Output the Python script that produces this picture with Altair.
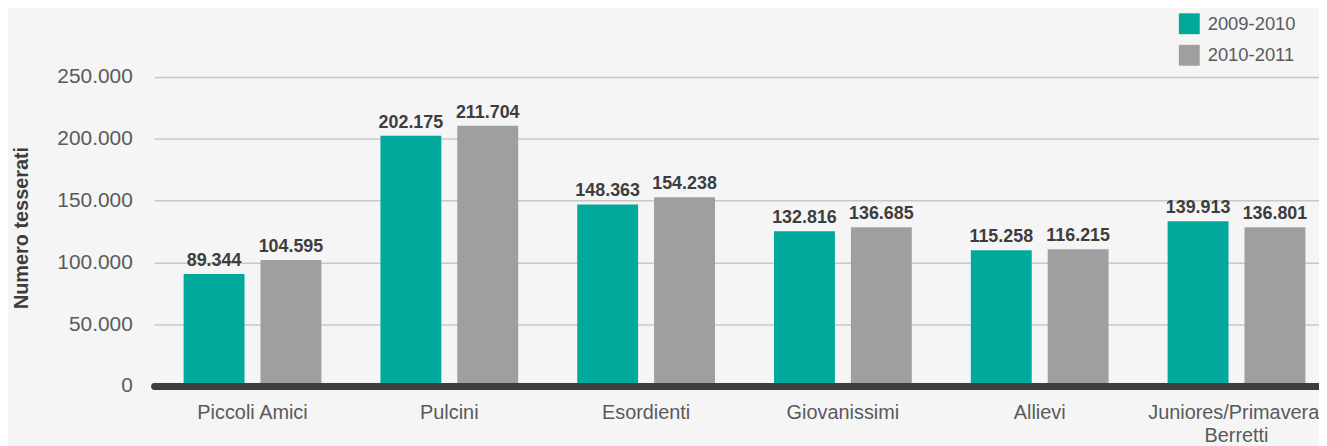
import altair as alt
import pandas as pd

categories = ["Piccoli Amici", "Pulcini", "Esordienti", "Giovanissimi", "Allievi",
              "Juniores/Primavera/Berretti"]
seasons = ["2009-2010", "2010-2011"]
# bar heights as drawn in the picture
bars_2009 = [90600, 202500, 146900, 125200, 109900, 133200]
bars_2010 = [101900, 210500, 152600, 128400, 110700, 128400]
# printed value labels
labels_2009 = ["89.344", "202.175", "148.363", "132.816", "115.258", "139.913"]
labels_2010 = ["104.595", "211.704", "154.238", "136.685", "116.215", "136.801"]
y_ticks = [0, 50000, 100000, 150000, 200000, 250000]

rows = []
for c, v, l in zip(categories, bars_2009, labels_2009):
    rows.append({"cat": c, "season": seasons[0], "val": v, "label": l})
for c, v, l in zip(categories, bars_2010, labels_2010):
    rows.append({"cat": c, "season": seasons[1], "val": v, "label": l})
df = pd.DataFrame(rows)

TEAL = "#00a99b"
GREY = "#9e9fa1"
FONT = "Liberation Sans"
LIGHT = "#5a5a5a"

x_enc = alt.X(
    "cat:N", sort=categories, title=None,
    scale=alt.Scale(range=[0, 1188], paddingInner=0.3, paddingOuter=0.15),
    axis=alt.Axis(
        labelAngle=0, labelFont=FONT, labelFontSize=20, labelColor=LIGHT,
        labelPadding=17, ticks=False, domainColor="#3d3d3f", domainWidth=7,
        domainCap="round", labelLineHeight=23, zindex=1, labelBaseline="top",
        labelExpr="datum.label == 'Juniores/Primavera/Berretti' ? ['Juniores/Primavera/', 'Berretti'] : datum.label",
    ),
)
xoff = alt.XOffset("season:N", sort=seasons,
                   scale=alt.Scale(paddingInner=0.208, paddingOuter=0))

y_enc = alt.Y(
    "val:Q", title="Numero tesserati",
    scale=alt.Scale(domain=[0, 250000], nice=False),
    axis=alt.Axis(
        values=y_ticks, ticks=False, domain=False, gridColor="#c8c8c8", gridWidth=1.5,
        labelFont=FONT, labelFontSize=21, labelColor=LIGHT, labelPadding=22,
        labelExpr="replace(format(datum.value, ','), regexp(',', 'g'), '.')",
        titleFont=FONT, titleFontSize=20, titleFontWeight="bold", titleColor="#3d3d3d",
        titleAngle=270, titleX=-127, titleY=151.5, titleAlign="center",
        titleBaseline="alphabetic",
    ),
)

bars = alt.Chart(df).mark_bar().encode(
    x=x_enc, xOffset=xoff, y=y_enc,
    color=alt.Color(
        "season:N", sort=seasons,
        scale=alt.Scale(domain=seasons, range=[TEAL, GREY]),
        legend=alt.Legend(
            title=None, orient="none", legendX=1031, legendY=-64, direction="vertical",
            padding=0, symbolType="square", symbolSize=441, symbolStrokeWidth=0,
            symbolOpacity=1, labelFont=FONT, labelFontSize=18.5, labelColor=LIGHT,
            labelOffset=8, rowPadding=10.7,
        ),
    ),
)

text = alt.Chart(df).mark_text(
    font=FONT, fontSize=18, fontWeight="bold", color="#3d3d3d",
    baseline="alphabetic", align="center", dy=-8,
).encode(x=x_enc, xOffset=xoff, y=y_enc, text="label:N")

chart = alt.layer(bars, text).properties(
    width=1172, height=311,
    autosize=alt.AutoSizeParams(type="none"),
    padding={"left": 147, "top": 68, "right": 0, "bottom": 59},
    background="#f5f5f5",
).configure_view(stroke=None)

chart.save("out.html", embed_options={"renderer": "svg", "actions": False})
